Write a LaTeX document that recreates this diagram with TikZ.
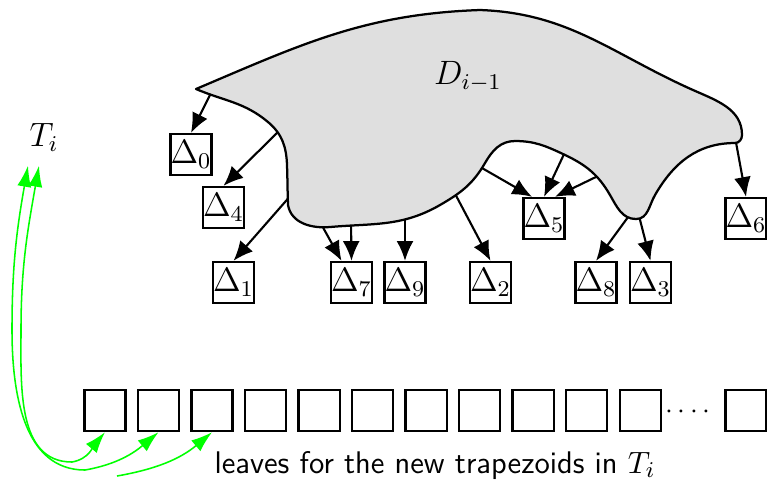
\documentclass[tikz,border=0pt]{standalone}
\usetikzlibrary{arrows.meta,positioning}
\usepackage{amsmath}
\begin{document}
\begin{tikzpicture}[
    x=0.355pt, y=-0.355pt,
    node distance=3.6pt,
    trap/.style={draw, line width=0.8pt, minimum size=14.6pt, inner sep=0pt, font=\large},
    leaf/.style={draw, line width=0.8pt, minimum size=14.6pt, inner sep=0pt},
    flow/.style={-{Latex[length=7pt,width=6pt]}, line width=0.75pt},
    link/.style={{Latex[length=7.5pt,width=5pt]}-{Latex[length=7.5pt,width=5pt]}, green, line width=0.55pt},
    halflink/.style={-{Latex[length=7.5pt,width=5pt]}, green, line width=0.55pt},
    region/.style={draw, line width=0.8pt, fill=gray!25, line join=round}
]
\useasboundingbox (0,0) rectangle (767,481);
\node[trap] (d0) at (191,154.5) {$\Delta_0$};
\node[trap] (d4) at (223.5,207.5) {$\Delta_4$};
\node[trap] (d1) at (233.5,282.5) {$\Delta_1$};
\node[trap] (d7) at (351.5,282.5) {$\Delta_7$};
\node[trap] (d9) at (405,282.5) {$\Delta_9$};
\node[trap] (d2) at (490.5,282.5) {$\Delta_2$};
\node[trap] (d5) at (544,218.5) {$\Delta_5$};
\node[trap] (d8) at (596,282.5) {$\Delta_8$};
\node[trap] (d3) at (650.5,282.5) {$\Delta_3$};
\node[trap] (d6) at (746,218.5) {$\Delta_6$};
\coordinate (s0) at (211,93);
\coordinate (s4) at (281,129);
\coordinate (s1) at (292,194);
\coordinate (s7a) at (320,222);
\coordinate (s7b) at (351,221);
\coordinate (s9) at (405,212);
\coordinate (s2) at (452,188);
\coordinate (s5a) at (475,164);
\coordinate (s5b) at (565,152);
\coordinate (s5c) at (600,175);
\coordinate (s8) at (631,213);
\coordinate (s3) at (638,212);
\coordinate (s6) at (735,137);
\draw[flow] (s0) -- (d0.north);
\draw[flow] (s4) -- (d4.north);
\draw[flow] (s1) -- (d1.north);
\draw[flow] (s7a) -- ([shift={(-10,0)}]d7.north);
\draw[flow] (s7b) -- (d7.north);
\draw[flow] (s9) -- (d9.north);
\draw[flow] (s2) -- (d2.north);
\draw[flow] (s5a) -- ([shift={(-12,0)}]d5.north);
\draw[flow] (s5b) -- (d5.north);
\draw[flow] (s5c) -- ([shift={(11,0)}]d5.north);
\draw[flow] (s8) -- (d8.north);
\draw[flow] (s3) -- (d3.north);
\draw[flow] (s6) -- (d6.north);
\draw[region] (196,89) to[out=23,in=182] (480,10)
    to[out=-2,in=156] (693,90) to[out=-24,in=90] (742,135)
    to[out=-90,in=0] (735,143) to[out=180,in=60] (655,195)
    to[out=-120,in=0] (636,219) to[out=180,in=-60] (610,195)
    to[out=120,in=-25] (563,154) to[out=155,in=0] (515,141)
    to[out=180,in=60] (485,163) to[out=-120,in=30] (440,205)
    to[out=-150,in=5] (330,227) to[out=185,in=-80] (288,205)
    to[out=92,in=-88] (287,165) to[out=92,in=-40] (268,122)
    to[out=140,in=-23] (196,89) -- cycle;
\node[font=\large] (dlabel) at (468,77) {$D_{i-1}$};
\node[inner sep=0pt, font=\large] (Ti) at (44,137) {$T_i$};
\node[leaf] (leaf1) at (105,410.5) {};
\node[leaf, right=of leaf1] (leaf2) {};
\node[leaf, right=of leaf2] (leaf3) {};
\node[leaf, right=of leaf3] (leaf4) {};
\node[leaf, right=of leaf4] (leaf5) {};
\node[leaf, right=of leaf5] (leaf6) {};
\node[leaf, right=of leaf6] (leaf7) {};
\node[leaf, right=of leaf7] (leaf8) {};
\node[leaf, right=of leaf8] (leaf9) {};
\node[leaf, right=of leaf9] (leaf10) {};
\node[leaf, right=of leaf10] (leaf11) {};
\node[inner sep=0pt] (dots) at (688,412) {$\cdotp\cdotp\cdotp\cdotp$};
\node[leaf] (leaf12) at (746,410.5) {};
\node[font=\fontsize{11.1}{13}\sffamily, anchor=base] (leaves) at (435,473) {leaves for the new trapezoids in $T_i$};
\coordinate (lv) at (117,476);
\draw[link] ([shift={(-5,14)}]Ti.south) to[out=-100,in=90] (21,330)
    to[out=-90,in=180] (72,462) to[out=10,in=-130] (leaf1.south);
\draw[link] ([shift={(-16,14)}]Ti.south) to[out=-100,in=90] (12,330)
    to[out=-90,in=180] (85,470) to[out=10,in=-140] (leaf2.south);
\draw[halflink] (lv) to[out=10,in=-140] (leaf3.south);
\end{tikzpicture}
\end{document}
